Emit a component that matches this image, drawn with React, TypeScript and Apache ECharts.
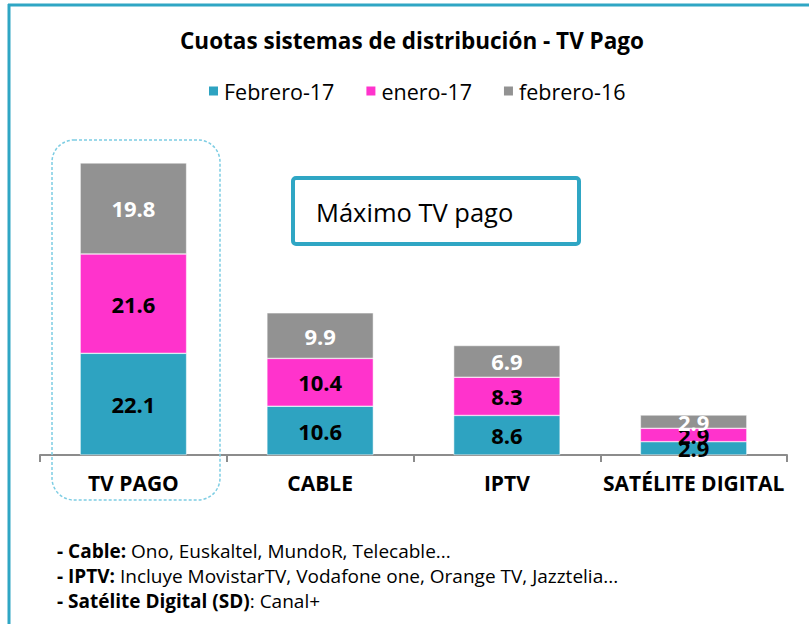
import React, { useEffect, useRef } from "react";
import * as echarts from "echarts";

const categories = ["TV PAGO", "CABLE", "IPTV", "SATÉLITE DIGITAL"];
const seriesNames = ["Febrero-17", "enero-17", "febrero-16"];
const feb17 = [22.1, 10.6, 8.6, 2.9];
const ene17 = [21.6, 10.4, 8.3, 2.9];
const feb16 = [19.8, 9.9, 6.9, 2.9];
const colors = ["#2EA3C1", "#FF33CC", "#929292"];
const labelColors = ["#000000", "#000000", "#FFFFFF"];
const notes = [
  ["- Cable:", " Ono, Euskaltel, MundoR, Telecable..."],
  ["- IPTV:", " Incluye MovistarTV, Vodafone one, Orange TV, Jazztelia..."],
  ["- Satélite Digital (SD)", ": Canal+"],
];

const FONT = "'Open Sans', sans-serif";

export default function App() {
  const ref = useRef<HTMLDivElement>(null);
  useEffect(() => {
    if (!ref.current) return;
    const chart = echarts.init(ref.current, null, { renderer: "svg" });
    const data = [feb17, ene17, feb16];
    chart.setOption({
      animation: false,
      backgroundColor: "#ffffff",
      title: {
        text: "Cuotas sistemas de distribución - TV Pago",
        left: 412,
        textAlign: "center",
        top: 29,
        padding: 0,
        textStyle: { fontFamily: FONT, fontSize: 22.5, fontWeight: "bold", color: "#000" },
      },
      legend: {
        top: 80,
        left: 207,
        padding: 0,
        itemWidth: 11,
        itemHeight: 11,
        itemGap: 30,
        icon: "rect",
        data: seriesNames,
        textStyle: { fontFamily: FONT, fontSize: 21.5, color: "#000" },
      },
      grid: { left: 40, right: 22, top: 133, bottom: 169, containLabel: false },
      xAxis: {
        type: "category",
        data: categories,
        axisLine: { lineStyle: { color: "#8c8c8c", width: 2 } },
        axisTick: { show: true, interval: 0, lineStyle: { color: "#8c8c8c", width: 2 }, length: 7 },
        axisLabel: {
          interval: 0,
          fontFamily: FONT,
          fontSize: 21,
          fontWeight: "bold",
          color: "#000",
          margin: 17,
        },
      },
      yAxis: {
        type: "value",
        min: 0,
        max: 70,
        show: false,
        splitLine: { show: false },
      },
      series: seriesNames.map((name, i) => ({
        name,
        type: "bar",
        stack: "total",
        data: data[i],
        barWidth: "57%",
        itemStyle: { color: colors[i], borderColor: "#ffffff", borderWidth: 0.5 },
        label: {
          show: true,
          position: "inside",
          fontFamily: FONT,
          fontSize: 22,
          fontWeight: "bold",
          color: labelColors[i],
          formatter: (p: any) => Number(p.value).toFixed(1),
        },
      })),
      graphic: [
        {
          type: "line",
          shape: { x1: 8, y1: 5, x2: 809, y2: 5 },
          style: { stroke: "#2FA6C4", lineWidth: 3 },
        },
        {
          type: "line",
          shape: { x1: 9, y1: 4, x2: 9, y2: 624 },
          style: { stroke: "#2FA6C4", lineWidth: 3 },
        },
        {
          type: "rect",
          shape: { x: 52, y: 140, width: 168, height: 360, r: 22 },
          style: { fill: "none", stroke: "#7DCDE3", lineWidth: 1.5, lineDash: [3, 2] },
          z: 100,
        },
        {
          type: "rect",
          shape: { x: 293, y: 178, width: 286, height: 66, r: 3 },
          style: { fill: "#ffffff", stroke: "#2FA6C4", lineWidth: 4 },
          z: 100,
        },
        {
          type: "text",
          x: 316,
          y: 212,
          style: {
            text: "Máximo TV pago",
            fontFamily: FONT,
            fontSize: 25.5,
            fill: "#000",
            textVerticalAlign: "middle",
          },
          z: 101,
        },
        ...notes.map((n, i) => ({
          type: "text",
          x: 57,
          y: 551 + i * 25,
          style: {
            text: `{b|${n[0]}}{r|${n[1]}}`,
            textVerticalAlign: "middle",
            rich: {
              b: { fontFamily: FONT, fontSize: 19, fontWeight: "bold", fill: "#000", color: "#000" },
              r: { fontFamily: FONT, fontSize: 19, fill: "#000", color: "#000" },
            },
          },
          z: 101,
        })),
      ],
    });
    return () => chart.dispose();
  }, []);
  return (
    <div
      ref={ref}
      style={{ position: "fixed", left: 0, top: 0, width: 809, height: 624 }}
    />
  );
}
